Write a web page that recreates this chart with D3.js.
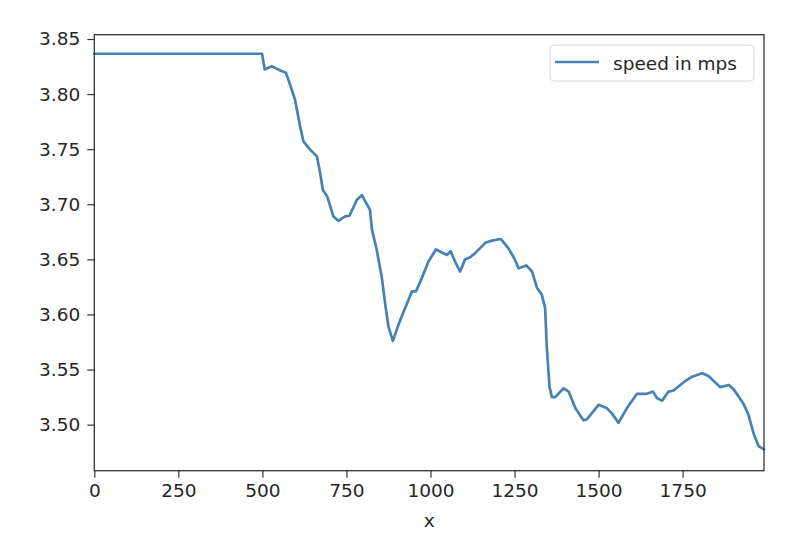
<!DOCTYPE html>
<html>
<head>
<meta charset="utf-8">
<script src="https://cdn.jsdelivr.net/npm/d3@7"></script>
<style>
  html, body { margin: 0; padding: 0; background: #fff; }
  svg { display: block; }
  text { font-family: "DejaVu Sans", sans-serif; fill: #262626; }
</style>
</head>
<body>
<svg id="chart" width="812" height="550"></svg>
<script>
const xValues = [0, 499, 507, 528, 551, 570, 584, 597, 612, 622, 642, 662, 672, 680, 693, 711, 726, 746, 759, 781, 796,
  820, 826, 840, 855, 865, 875, 888, 910, 945, 957, 974, 994, 1016, 1049, 1060, 1073, 1088, 1103, 1118, 1133,
  1163, 1183, 1209, 1232, 1249, 1262, 1285, 1302, 1317, 1331, 1341, 1346, 1354, 1361, 1371, 1396, 1411, 1431,
  1455, 1465, 1500, 1525, 1540, 1559, 1584, 1614, 1644, 1662, 1674, 1689, 1708, 1723, 1753, 1778, 1808, 1827,
  1862, 1887, 1902, 1931, 1946, 1961, 1976, 1989, 1992];
const speedValues = [3.8366, 3.8366, 3.8224, 3.8254, 3.8217, 3.8194, 3.807, 3.795, 3.771, 3.757, 3.7496, 3.7435, 3.728, 3.713, 3.707, 3.689, 3.685, 3.689, 3.6896, 3.704, 3.7082,
  3.695, 3.677, 3.6587, 3.634, 3.610, 3.589, 3.576, 3.595, 3.621, 3.621, 3.633, 3.648, 3.659, 3.654, 3.6575, 3.648, 3.639, 3.650, 3.652, 3.6557,
  3.665, 3.667, 3.6685, 3.660, 3.651, 3.642, 3.6445, 3.639, 3.624, 3.618, 3.6057, 3.570, 3.5345, 3.525, 3.525, 3.533, 3.530, 3.5148,
  3.504, 3.5048, 3.518, 3.5148, 3.510, 3.5017, 3.5148, 3.528, 3.528, 3.530, 3.524, 3.5218, 3.530, 3.531, 3.5385, 3.5435, 3.5466, 3.5442,
  3.534, 3.536, 3.532, 3.519, 3.5087, 3.492, 3.4805, 3.478, 3.4775];
const xTicks = [0, 250, 500, 750, 1000, 1250, 1500, 1750];
const yTicks = [3.50, 3.55, 3.60, 3.65, 3.70, 3.75, 3.80, 3.85];
const seriesName = "speed in mps";
const xLabel = "x";

const svg = d3.select("#chart");
const mLeft = 94.3, mRight = 764, mTop = 34.7, mBottom = 470.7;
const fontPx = "18.5px";

const x = d3.scaleLinear().domain([0, 1992]).range([mLeft, mRight]);
const y = d3.scaleLinear().domain([3.4582, 3.8539]).range([mBottom, mTop]);

// x axis
const xAxis = svg.append("g")
  .attr("transform", `translate(0,${mBottom})`)
  .call(d3.axisBottom(x).tickValues(xTicks).tickSize(7).tickPadding(6).tickFormat(d3.format("d")));
xAxis.select(".domain").remove();
xAxis.selectAll("line").attr("stroke", "#333").attr("stroke-width", 1.2);
xAxis.selectAll("text").style("font-size", fontPx).attr("fill", "#262626").attr("font-family", "DejaVu Sans");

// y axis
const yAxis = svg.append("g")
  .attr("transform", `translate(${mLeft},0)`)
  .call(d3.axisLeft(y).tickValues(yTicks).tickSize(7).tickPadding(7).tickFormat(d3.format(".2f")));
yAxis.select(".domain").remove();
yAxis.selectAll("line").attr("stroke", "#333").attr("stroke-width", 1.2);
yAxis.selectAll("text").style("font-size", fontPx).attr("fill", "#262626").attr("font-family", "DejaVu Sans");

// line
const data = xValues.map((d, i) => ({x: d, y: speedValues[i]}));
svg.append("path")
  .datum(data)
  .attr("fill", "none")
  .attr("stroke", "#4682b4")
  .attr("stroke-width", 2.7)
  .attr("stroke-linejoin", "round")
  .attr("stroke-linecap", "round")
  .attr("d", d3.line().x(d => x(d.x)).y(d => y(d.y)));

// frame
svg.append("rect")
  .attr("x", mLeft).attr("y", mTop)
  .attr("width", mRight - mLeft).attr("height", mBottom - mTop)
  .attr("fill", "none").attr("stroke", "#333").attr("stroke-width", 1.3);

// x label
svg.append("text")
  .attr("x", (mLeft + mRight) / 2).attr("y", 527)
  .attr("text-anchor", "middle")
  .style("font-size", fontPx)
  .text(xLabel);

// legend
const lg = svg.append("g");
lg.append("rect")
  .attr("x", 550).attr("y", 45).attr("width", 204).attr("height", 36)
  .attr("rx", 4).attr("fill", "#fff").attr("fill-opacity", 0.8)
  .attr("stroke", "#d8d8d8").attr("stroke-width", 1);
lg.append("line")
  .attr("x1", 555).attr("x2", 599).attr("y1", 62).attr("y2", 62)
  .attr("stroke", "#4682b4").attr("stroke-width", 2.7);
lg.append("text")
  .attr("x", 613).attr("y", 69.5)
  .style("font-size", fontPx)
  .text(seriesName);
</script>
</body>
</html>
